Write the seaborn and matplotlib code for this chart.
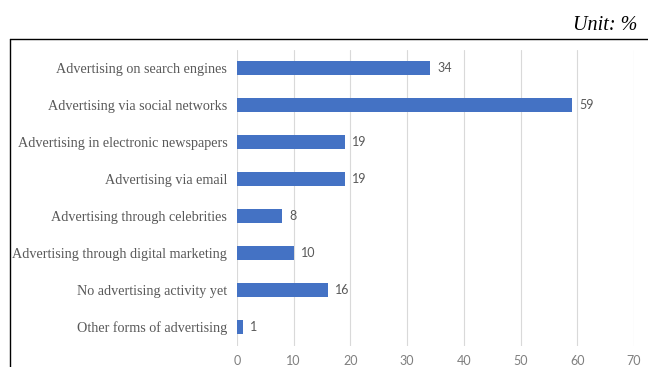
import matplotlib
matplotlib.use("Agg")
import matplotlib.pyplot as plt
from matplotlib.lines import Line2D
import seaborn as sns
import pandas as pd

categories = [
    "Advertising on search engines",
    "Advertising via social networks",
    "Advertising in electronic newspapers",
    "Advertising via email",
    "Advertising through celebrities",
    "Advertising through digital marketing",
    "No advertising activity yet",
    "Other forms of advertising",
]
values = [34, 59, 19, 19, 8, 10, 16, 1]
x_ticks = [0, 10, 20, 30, 40, 50, 60, 70]

df = pd.DataFrame({"category": categories, "value": values})

sns.set_style("white")
W, H = 648, 367
fig = plt.figure(figsize=(W / 100, H / 100), dpi=100)
ax = fig.add_axes([237 / W, 1 - 345.5 / H, (634 - 237) / W, (345.5 - 49.5) / H])

sns.barplot(data=df, x="value", y="category", orient="h", color="#4472C4",
            width=0.36, saturation=1, linewidth=0, ax=ax, zorder=3)

ax.set_xlim(0, 70)
ax.set_ylim(7.5, -0.5)
ax.set_xticks(x_ticks)
ax.set_xlabel("")
ax.set_ylabel("")
ax.grid(axis="x", color="#D9D9D9", linewidth=0.8, zorder=0)
ax.grid(axis="y", visible=False)
for s in ax.spines.values():
    s.set_visible(False)
ax.tick_params(axis="x", length=0, pad=7, labelsize=9, labelcolor="#7F7F7F")
ax.tick_params(axis="y", length=0, pad=7)
for lbl in ax.get_xticklabels():
    lbl.set_fontfamily("Lato")
for lbl in ax.get_yticklabels():
    lbl.set_fontfamily("Liberation Serif")
    lbl.set_fontsize(10.2)
    lbl.set_color("#595959")

for i, v in enumerate(values):
    ax.text(v + 1.3, i, str(v), va="center", ha="left", fontsize=9,
            color="#595959", family="Lato")

fig.text(637 / W, 1 - 25 / H, "Unit: %", ha="right", va="center",
         fontsize=14.5, style="italic", family="Liberation Serif", color="black")

fig.add_artist(Line2D([9.5 / W, 1], [1 - 38.5 / H, 1 - 38.5 / H],
                      transform=fig.transFigure, color="black", linewidth=1))
fig.add_artist(Line2D([9.5 / W, 9.5 / W], [0, 1 - 38.5 / H],
                      transform=fig.transFigure, color="black", linewidth=1))

fig.savefig("out.png", dpi=100, facecolor="white")
